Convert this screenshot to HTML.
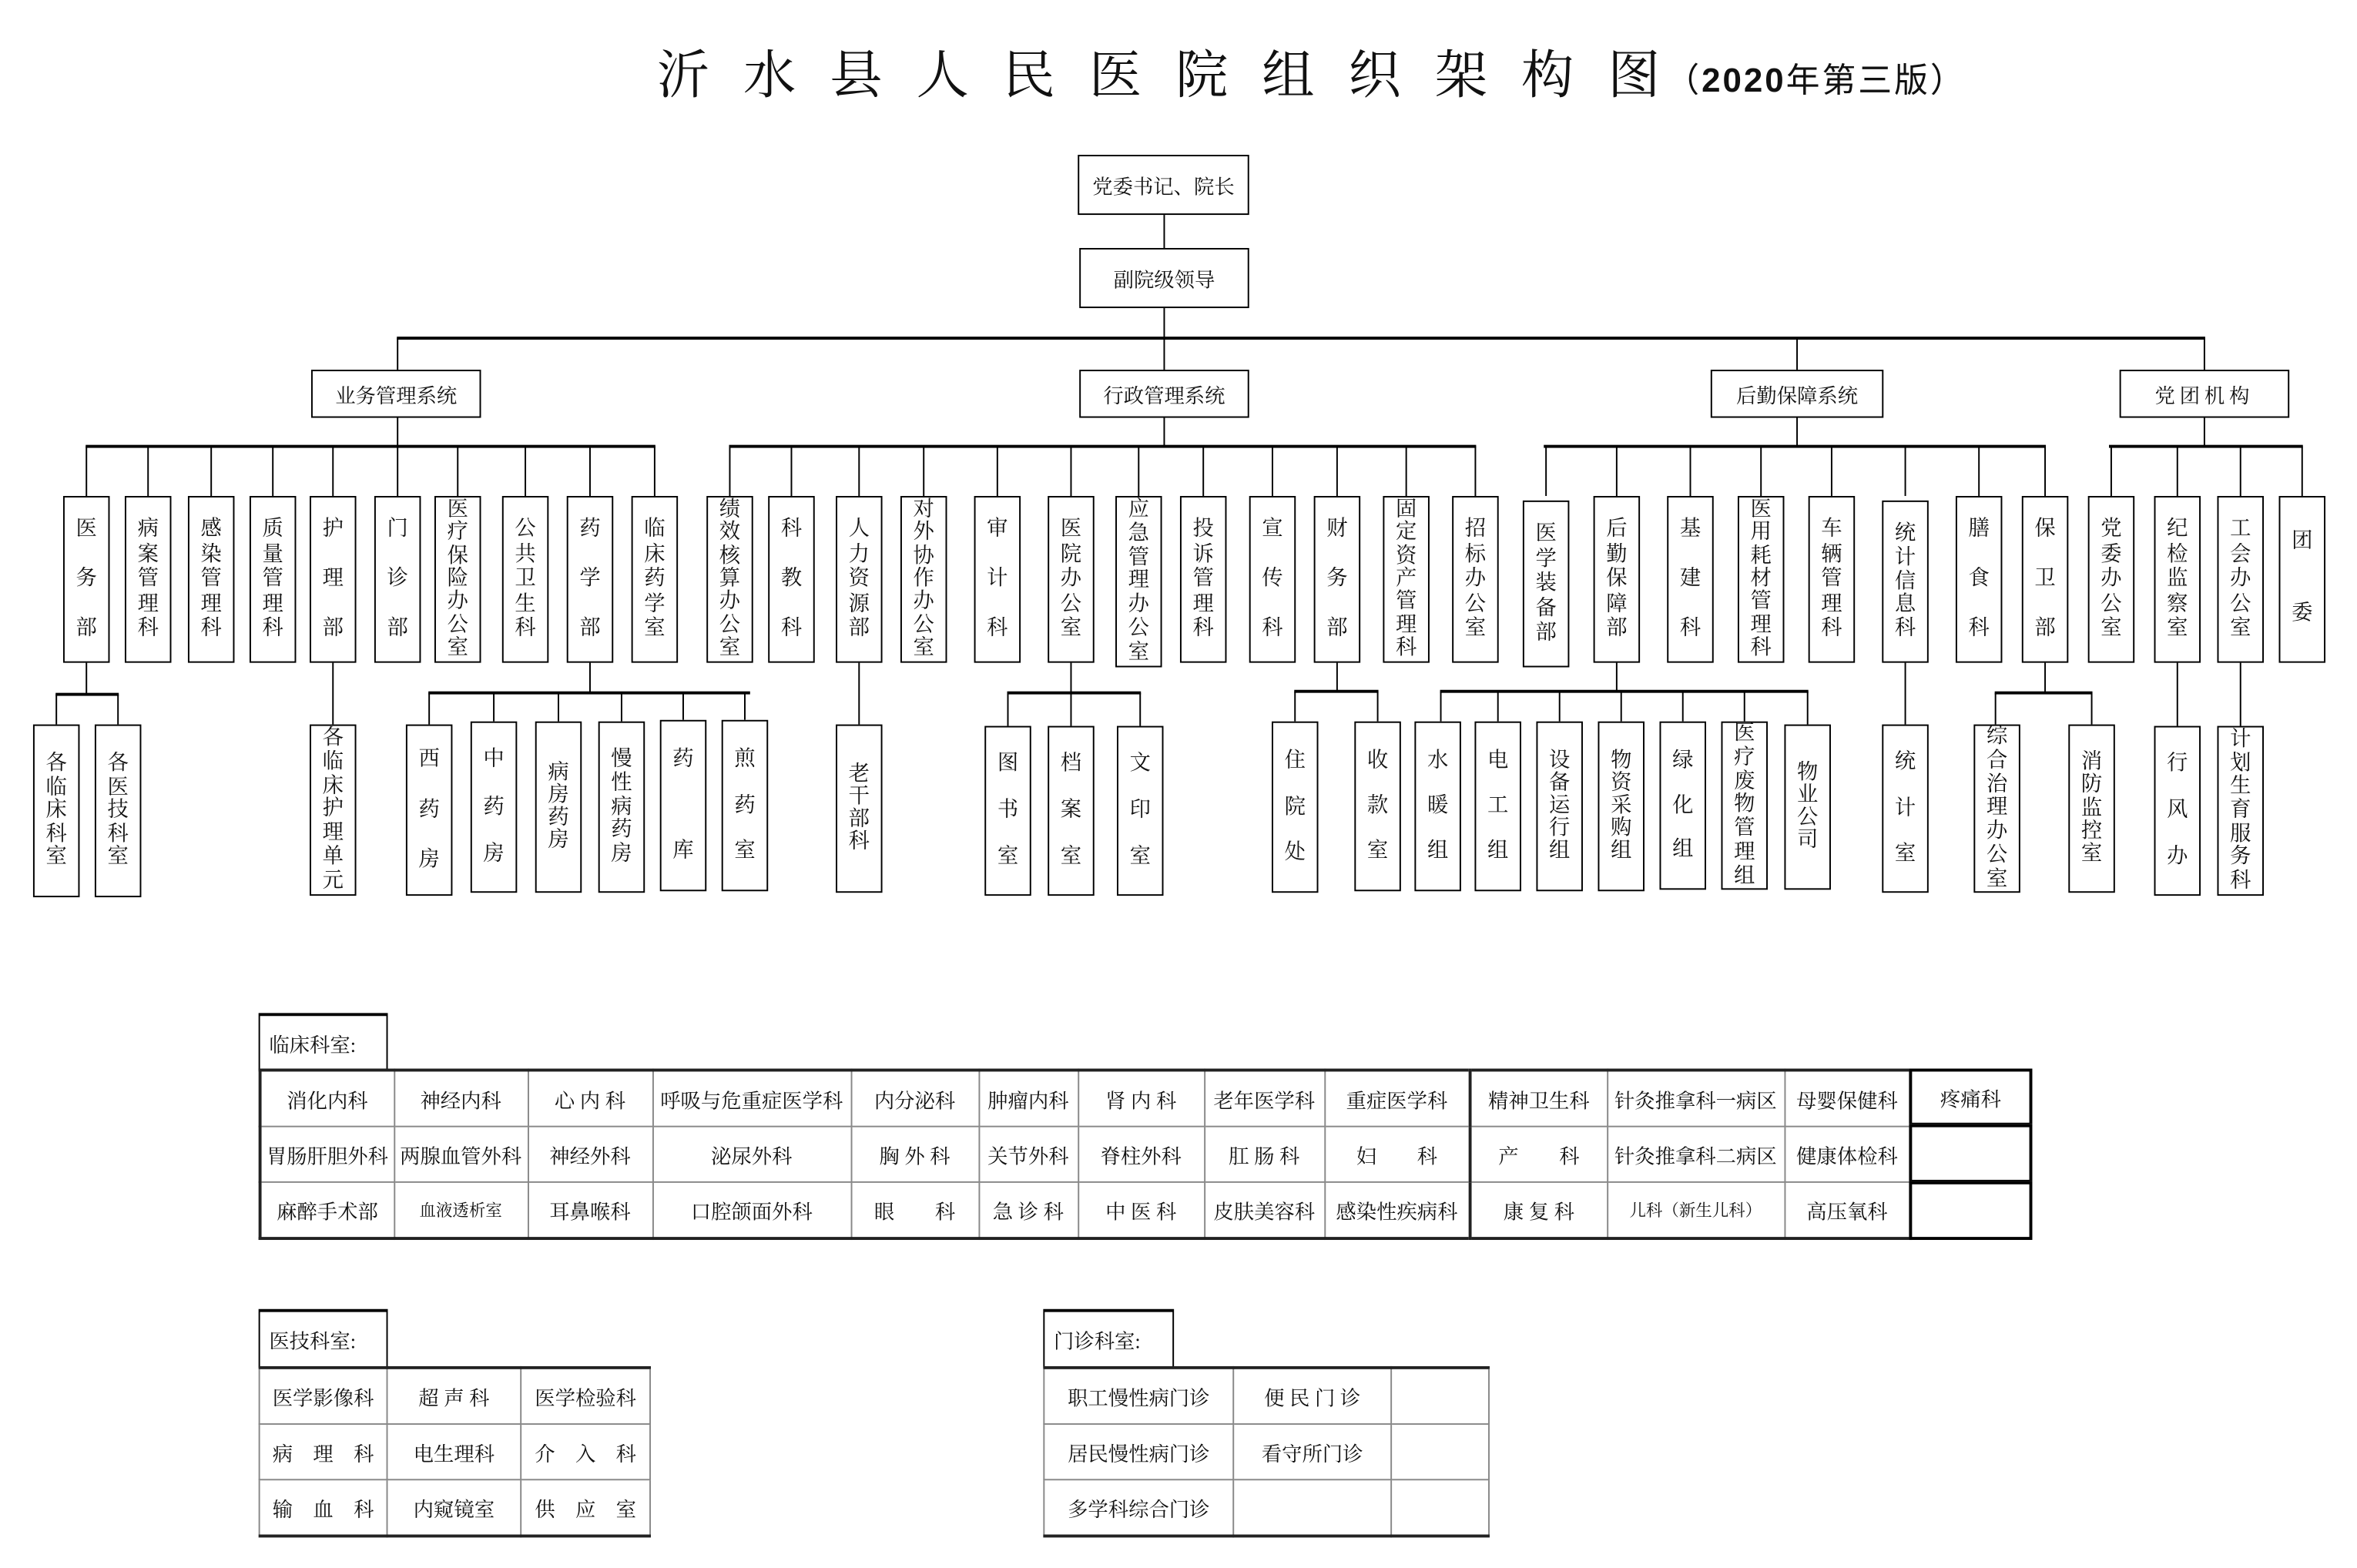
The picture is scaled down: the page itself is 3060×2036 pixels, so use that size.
<!DOCTYPE html>
<html><head><meta charset="utf-8">
<style>
html,body{margin:0;padding:0;background:#fff;}
body{width:3060px;height:2036px;overflow:hidden;position:relative;}
#w{position:absolute;left:0;top:0;width:1568px;height:1043px;transform:scale(1.95153);transform-origin:0 0;font-family:"Liberation Serif","Noto Serif CJK SC",serif;color:#111;}
.b{position:absolute;border:1.5px solid #000;box-sizing:border-box;background:#fff;}
.hb{display:flex;align-items:center;justify-content:center;font-size:13.5px;}
.v{display:flex;flex-direction:column;align-items:center;justify-content:space-between;font-size:14px;line-height:15px;width:31px;}
.L2{top:330px;height:111px;}
.p3{padding:14px 0;}
.p7{padding:1px 0;}
.p2{padding:22px 0 24px;}
.h{position:absolute;height:1.6px;background:#000;}
.l{position:absolute;width:1.2px;background:#000;}
.t{position:absolute;white-space:nowrap;}
table{position:absolute;border-collapse:collapse;table-layout:fixed;font-size:13.5px;}
td{border:1px solid #888;height:36px;text-align:center;padding:0;white-space:nowrap;overflow:hidden;}
.lab{position:absolute;border:1.2px solid #000;border-top-width:2px;box-sizing:border-box;font-size:13.5px;display:flex;align-items:center;padding-left:6px;background:#fff;}
.sm{font-size:11px;}
</style></head><body><div id="w">

<div class="t" style="left:437px;top:28px;font-size:35px;letter-spacing:22.5px;line-height:46px;">沂水县人民医院组织架构图</div>
<div class="t" style="left:1108px;top:39px;font-size:22.5px;letter-spacing:1.5px;line-height:30px;font-family:'Liberation Sans','Noto Sans CJK SC',sans-serif;">（<b>2020</b>年第三版）</div>

<!-- top -->
<div class="b hb" style="left:717px;top:103px;width:114px;height:40px;">党委书记、院长</div>
<div class="l" style="left:774px;top:143px;height:22px;"></div>
<div class="b hb" style="left:718px;top:165px;width:113px;height:40px;">副院级领导</div>
<div class="l" style="left:774px;top:205px;height:20px;"></div>
<div class="h" style="left:264px;top:224px;width:1203px;"></div>
<div class="l" style="left:264px;top:225px;height:21px;"></div>
<div class="l" style="left:774px;top:225px;height:21px;"></div>
<div class="l" style="left:1195px;top:225px;height:21px;"></div>
<div class="l" style="left:1466px;top:225px;height:21px;"></div>
<div class="b hb" style="left:207px;top:246px;width:113px;height:32px;">业务管理系统</div>
<div class="b hb" style="left:718px;top:246px;width:113px;height:32px;">行政管理系统</div>
<div class="b hb" style="left:1138px;top:246px;width:115px;height:32px;">后勤保障系统</div>
<div class="b hb" style="left:1410px;top:246px;width:113px;height:32px;letter-spacing:3px;">党团机构</div>

<!-- level-2 connectors -->
<div class="l" style="left:264px;top:278px;height:19px;"></div>
<div class="l" style="left:774px;top:278px;height:19px;"></div>
<div class="l" style="left:1195px;top:278px;height:19px;"></div>
<div class="l" style="left:1466px;top:278px;height:19px;"></div>
<div class="h" style="left:57px;top:296px;width:379px;"></div>
<div class="h" style="left:485px;top:296px;width:497px;"></div>
<div class="h" style="left:1027px;top:296px;width:334px;"></div>
<div class="h" style="left:1403px;top:296px;width:129px;"></div>

<div class="l" style="left:57px;top:297px;height:33px"></div>
<div class="l" style="left:98px;top:297px;height:33px"></div>
<div class="l" style="left:140px;top:297px;height:33px"></div>
<div class="l" style="left:181px;top:297px;height:33px"></div>
<div class="l" style="left:221px;top:297px;height:33px"></div>
<div class="l" style="left:264px;top:297px;height:33px"></div>
<div class="l" style="left:304px;top:297px;height:33px"></div>
<div class="l" style="left:349px;top:297px;height:33px"></div>
<div class="l" style="left:392px;top:297px;height:33px"></div>
<div class="l" style="left:435px;top:297px;height:33px"></div>
<div class="l" style="left:485px;top:297px;height:33px"></div>
<div class="l" style="left:526px;top:297px;height:33px"></div>
<div class="l" style="left:571px;top:297px;height:33px"></div>
<div class="l" style="left:614px;top:297px;height:33px"></div>
<div class="l" style="left:663px;top:297px;height:33px"></div>
<div class="l" style="left:712px;top:297px;height:33px"></div>
<div class="l" style="left:757px;top:297px;height:33px"></div>
<div class="l" style="left:800px;top:297px;height:33px"></div>
<div class="l" style="left:846px;top:297px;height:33px"></div>
<div class="l" style="left:889px;top:297px;height:33px"></div>
<div class="l" style="left:935px;top:297px;height:33px"></div>
<div class="l" style="left:981px;top:297px;height:33px"></div>
<div class="l" style="left:1028px;top:297px;height:33px"></div>
<div class="l" style="left:1075px;top:297px;height:33px"></div>
<div class="l" style="left:1124px;top:297px;height:33px"></div>
<div class="l" style="left:1171px;top:297px;height:33px"></div>
<div class="l" style="left:1218px;top:297px;height:33px"></div>
<div class="l" style="left:1267px;top:297px;height:33px"></div>
<div class="l" style="left:1316px;top:297px;height:33px"></div>
<div class="l" style="left:1360px;top:297px;height:33px"></div>
<div class="l" style="left:1404px;top:297px;height:33px"></div>
<div class="l" style="left:1448px;top:297px;height:33px"></div>
<div class="l" style="left:1490px;top:297px;height:33px"></div>
<div class="l" style="left:1531px;top:297px;height:33px"></div>

<!-- level-2 boxes -->
<div class="b v L2 p3" style="left:42px"><span>医</span><span>务</span><span>部</span></div>
<div class="b v L2 p3" style="left:83px"><span>病</span><span>案</span><span>管</span><span>理</span><span>科</span></div>
<div class="b v L2 p3" style="left:125px"><span>感</span><span>染</span><span>管</span><span>理</span><span>科</span></div>
<div class="b v L2 p3" style="left:166px"><span>质</span><span>量</span><span>管</span><span>理</span><span>科</span></div>
<div class="b v L2 p3" style="left:206px"><span>护</span><span>理</span><span>部</span></div>
<div class="b v L2 p3" style="left:249px"><span>门</span><span>诊</span><span>部</span></div>
<div class="b v L2 p7" style="left:289px"><span>医</span><span>疗</span><span>保</span><span>险</span><span>办</span><span>公</span><span>室</span></div>
<div class="b v L2 p3" style="left:334px"><span>公</span><span>共</span><span>卫</span><span>生</span><span>科</span></div>
<div class="b v L2 p3" style="left:377px"><span>药</span><span>学</span><span>部</span></div>
<div class="b v L2 p3" style="left:420px"><span>临</span><span>床</span><span>药</span><span>学</span><span>室</span></div>

<div class="b v L2 p7" style="left:470px"><span>绩</span><span>效</span><span>核</span><span>算</span><span>办</span><span>公</span><span>室</span></div>
<div class="b v L2 p3" style="left:511px"><span>科</span><span>教</span><span>科</span></div>
<div class="b v L2 p3" style="left:556px"><span>人</span><span>力</span><span>资</span><span>源</span><span>部</span></div>
<div class="b v L2 p7" style="left:599px"><span>对</span><span>外</span><span>协</span><span>作</span><span>办</span><span>公</span><span>室</span></div>
<div class="b v L2 p3" style="left:648px"><span>审</span><span>计</span><span>科</span></div>
<div class="b v L2 p3" style="left:697px"><span>医</span><span>院</span><span>办</span><span>公</span><span>室</span></div>
<div class="b v L2 p7" style="left:742px;height:114px"><span>应</span><span>急</span><span>管</span><span>理</span><span>办</span><span>公</span><span>室</span></div>
<div class="b v L2 p3" style="left:785px"><span>投</span><span>诉</span><span>管</span><span>理</span><span>科</span></div>
<div class="b v L2 p3" style="left:831px"><span>宣</span><span>传</span><span>科</span></div>
<div class="b v L2 p3" style="left:874px"><span>财</span><span>务</span><span>部</span></div>
<div class="b v L2 p7" style="left:920px"><span>固</span><span>定</span><span>资</span><span>产</span><span>管</span><span>理</span><span>科</span></div>
<div class="b v L2 p3" style="left:966px"><span>招</span><span>标</span><span>办</span><span>公</span><span>室</span></div>

<div class="b v L2 p3" style="left:1013px;top:333px"><span>医</span><span>学</span><span>装</span><span>备</span><span>部</span></div>
<div class="b v L2 p3" style="left:1060px"><span>后</span><span>勤</span><span>保</span><span>障</span><span>部</span></div>
<div class="b v L2 p3" style="left:1109px"><span>基</span><span>建</span><span>科</span></div>
<div class="b v L2 p7" style="left:1156px"><span>医</span><span>用</span><span>耗</span><span>材</span><span>管</span><span>理</span><span>科</span></div>
<div class="b v L2 p3" style="left:1203px"><span>车</span><span>辆</span><span>管</span><span>理</span><span>科</span></div>
<div class="b v L2 p3" style="left:1252px;top:333px;height:108px"><span>统</span><span>计</span><span>信</span><span>息</span><span>科</span></div>
<div class="b v L2 p3" style="left:1301px"><span>膳</span><span>食</span><span>科</span></div>
<div class="b v L2 p3" style="left:1345px"><span>保</span><span>卫</span><span>部</span></div>
<div class="b v L2 p3" style="left:1389px"><span>党</span><span>委</span><span>办</span><span>公</span><span>室</span></div>
<div class="b v L2 p3" style="left:1433px"><span>纪</span><span>检</span><span>监</span><span>察</span><span>室</span></div>
<div class="b v L2 p3" style="left:1475px"><span>工</span><span>会</span><span>办</span><span>公</span><span>室</span></div>
<div class="b v L2 p2" style="left:1516px"><span>团</span><span>委</span></div>

<!-- level-3 connectors -->
<div class="l" style="left:57px;top:441px;height:21px"></div>
<div class="h" style="left:37px;top:461px;width:42px"></div>
<div class="l" style="left:37px;top:462px;height:20px"></div>
<div class="l" style="left:78px;top:462px;height:20px"></div>
<div class="l" style="left:221px;top:441px;height:41px"></div>
<div class="l" style="left:392px;top:441px;height:20px"></div>
<div class="h" style="left:285px;top:460px;width:214px"></div>
<div class="l" style="left:285px;top:461px;height:21px"></div>
<div class="l" style="left:328px;top:461px;height:19px"></div>
<div class="l" style="left:371px;top:461px;height:19px"></div>
<div class="l" style="left:413px;top:461px;height:19px"></div>
<div class="l" style="left:454px;top:461px;height:18px"></div>
<div class="l" style="left:495px;top:461px;height:18px"></div>
<div class="l" style="left:571px;top:441px;height:41px"></div>
<div class="l" style="left:712px;top:441px;height:20px"></div>
<div class="h" style="left:670px;top:460px;width:89px"></div>
<div class="l" style="left:670px;top:461px;height:22px"></div>
<div class="l" style="left:712px;top:461px;height:22px"></div>
<div class="l" style="left:758px;top:461px;height:22px"></div>
<div class="l" style="left:889px;top:441px;height:19px"></div>
<div class="h" style="left:861px;top:459px;width:56px"></div>
<div class="l" style="left:861px;top:460px;height:20px"></div>
<div class="l" style="left:916px;top:460px;height:20px"></div>
<div class="l" style="left:1075px;top:441px;height:19px"></div>
<div class="h" style="left:958px;top:459px;width:245px"></div>
<div class="l" style="left:958px;top:460px;height:20px"></div>
<div class="l" style="left:996px;top:460px;height:20px"></div>
<div class="l" style="left:1037px;top:460px;height:20px"></div>
<div class="l" style="left:1078px;top:460px;height:20px"></div>
<div class="l" style="left:1119px;top:460px;height:20px"></div>
<div class="l" style="left:1160px;top:460px;height:20px"></div>
<div class="l" style="left:1202px;top:460px;height:22px"></div>
<div class="l" style="left:1267px;top:441px;height:41px"></div>
<div class="l" style="left:1360px;top:441px;height:20px"></div>
<div class="h" style="left:1327px;top:460px;width:65px"></div>
<div class="l" style="left:1327px;top:461px;height:21px"></div>
<div class="l" style="left:1391px;top:461px;height:21px"></div>
<div class="l" style="left:1448px;top:441px;height:42px"></div>
<div class="l" style="left:1490px;top:441px;height:42px"></div>

<!-- level-3 boxes -->
<div class="b v" style="left:22px;top:482px;height:115px;padding:18px 0"><span>各</span><span>临</span><span>床</span><span>科</span><span>室</span></div>
<div class="b v" style="left:63px;top:482px;height:115px;padding:18px 0"><span>各</span><span>医</span><span>技</span><span>科</span><span>室</span></div>
<div class="b v" style="left:206px;top:482px;height:114px;padding:1px 0"><span>各</span><span>临</span><span>床</span><span>护</span><span>理</span><span>单</span><span>元</span></div>
<div class="b v" style="left:270px;top:482px;height:114px;padding:15px 0"><span>西</span><span>药</span><span>房</span></div>
<div class="b v" style="left:313px;top:480px;height:114px;padding:17px 0"><span>中</span><span>药</span><span>房</span></div>
<div class="b v" style="left:356px;top:480px;height:114px;padding:26px 0"><span>病</span><span>房</span><span>药</span><span>房</span></div>
<div class="b v" style="left:398px;top:480px;height:114px;padding:17px 0"><span>慢</span><span>性</span><span>病</span><span>药</span><span>房</span></div>
<div class="b v" style="left:439px;top:479px;height:114px;padding:18px 0"><span>药</span><span>库</span></div>
<div class="b v" style="left:480px;top:479px;height:114px;padding:18px 0"><span>煎</span><span>药</span><span>室</span></div>
<div class="b v" style="left:556px;top:482px;height:112px;padding:25px 0"><span>老</span><span>干</span><span>部</span><span>科</span></div>
<div class="b v" style="left:655px;top:483px;height:113px;padding:17px 0"><span>图</span><span>书</span><span>室</span></div>
<div class="b v" style="left:697px;top:483px;height:113px;padding:17px 0"><span>档</span><span>案</span><span>室</span></div>
<div class="b v" style="left:743px;top:483px;height:113px;padding:17px 0"><span>文</span><span>印</span><span>室</span></div>
<div class="b v" style="left:846px;top:480px;height:114px;padding:18px 0"><span>住</span><span>院</span><span>处</span></div>
<div class="b v" style="left:901px;top:480px;height:113px;padding:18px 0"><span>收</span><span>款</span><span>室</span></div>
<div class="b v" style="left:941px;top:480px;height:113px;padding:18px 0"><span>水</span><span>暖</span><span>组</span></div>
<div class="b v" style="left:981px;top:480px;height:113px;padding:18px 0"><span>电</span><span>工</span><span>组</span></div>
<div class="b v" style="left:1022px;top:480px;height:113px;padding:18px 0"><span>设</span><span>备</span><span>运</span><span>行</span><span>组</span></div>
<div class="b v" style="left:1063px;top:480px;height:113px;padding:18px 0"><span>物</span><span>资</span><span>采</span><span>购</span><span>组</span></div>
<div class="b v" style="left:1104px;top:480px;height:112px;padding:18px 0"><span>绿</span><span>化</span><span>组</span></div>
<div class="b v" style="left:1145px;top:480px;height:112px;padding:0"><span>医</span><span>疗</span><span>废</span><span>物</span><span>管</span><span>理</span><span>组</span></div>
<div class="b v" style="left:1187px;top:482px;height:110px;padding:24px 0"><span>物</span><span>业</span><span>公</span><span>司</span></div>
<div class="b v" style="left:1252px;top:482px;height:112px;padding:17px 0"><span>统</span><span>计</span><span>室</span></div>
<div class="b v" style="left:1313px;top:482px;height:112px;padding:0"><span>综</span><span>合</span><span>治</span><span>理</span><span>办</span><span>公</span><span>室</span></div>
<div class="b v" style="left:1376px;top:482px;height:112px;padding:17px 0"><span>消</span><span>防</span><span>监</span><span>控</span><span>室</span></div>
<div class="b v" style="left:1433px;top:483px;height:113px;padding:17px 0"><span>行</span><span>风</span><span>办</span></div>
<div class="b v" style="left:1475px;top:483px;height:113px;padding:1px 0"><span>计</span><span>划</span><span>生</span><span>育</span><span>服</span><span>务</span><span>科</span></div>

<!-- clinical table -->
<div class="lab" style="left:172px;top:674px;width:86px;height:38px;">临床科室:</div>
<table style="left:172px;top:711px;width:1098px;border:2px solid #222;">
<colgroup><col style="width:89px"><col style="width:89px"><col style="width:83px"><col style="width:132px"><col style="width:85px"><col style="width:66px"><col style="width:84px"><col style="width:80px"><col style="width:97px"><col style="width:91px"><col style="width:118px"><col style="width:84px"></colgroup>
<tr><td>消化内科</td><td>神经内科</td><td>心 内 科</td><td>呼吸与危重症医学科</td><td>内分泌科</td><td>肿瘤内科</td><td>肾 内 科</td><td>老年医学科</td><td>重症医学科</td><td style="border-left:2px solid #222">精神卫生科</td><td>针灸推拿科一病区</td><td>母婴保健科</td></tr>
<tr><td>胃肠肝胆外科</td><td>两腺血管外科</td><td>神经外科</td><td>泌尿外科</td><td>胸 外 科</td><td>关节外科</td><td>脊柱外科</td><td>肛 肠 科</td><td>妇　　科</td><td style="border-left:2px solid #222">产　　科</td><td>针灸推拿科二病区</td><td>健康体检科</td></tr>
<tr><td>麻醉手术部</td><td class="sm">血液透析室</td><td>耳鼻喉科</td><td>口腔颌面外科</td><td>眼　　科</td><td>急 诊 科</td><td>中 医 科</td><td>皮肤美容科</td><td>感染性疾病科</td><td style="border-left:2px solid #222">康 复 科</td><td class="sm">儿科（新生儿科）</td><td>高压氧科</td></tr>
</table>
<div class="b hb" style="left:1270px;top:711px;width:82px;height:38px;border-width:2px;">疼痛科</div>
<div class="b" style="left:1270px;top:748px;width:82px;height:39px;border-width:2px;"></div>
<div class="b" style="left:1270px;top:786px;width:82px;height:39px;border-width:2px;"></div>

<!-- medtech table -->
<div class="lab" style="left:172px;top:871px;width:86px;height:39px;">医技科室:</div>
<table style="left:172px;top:909px;width:260px;border:2px solid #222;border-left-width:1px;border-right-width:1px;">
<colgroup><col style="width:85px"><col style="width:89px"><col style="width:86px"></colgroup>
<tr><td>医学影像科</td><td>超 声 科</td><td>医学检验科</td></tr>
<tr><td>病　理　科</td><td>电生理科</td><td>介　入　科</td></tr>
<tr><td>输　血　科</td><td>内窥镜室</td><td>供　应　室</td></tr>
</table>

<!-- outpatient table -->
<div class="lab" style="left:694px;top:871px;width:87px;height:39px;">门诊科室:</div>
<table style="left:694px;top:909px;width:296px;border:2px solid #222;border-left-width:1px;border-right-width:1px;">
<colgroup><col style="width:126px"><col style="width:105px"><col style="width:65px"></colgroup>
<tr><td>职工慢性病门诊</td><td>便 民 门 诊</td><td></td></tr>
<tr><td>居民慢性病门诊</td><td>看守所门诊</td><td></td></tr>
<tr><td>多学科综合门诊</td><td></td><td></td></tr>
</table>

</div></body></html>
